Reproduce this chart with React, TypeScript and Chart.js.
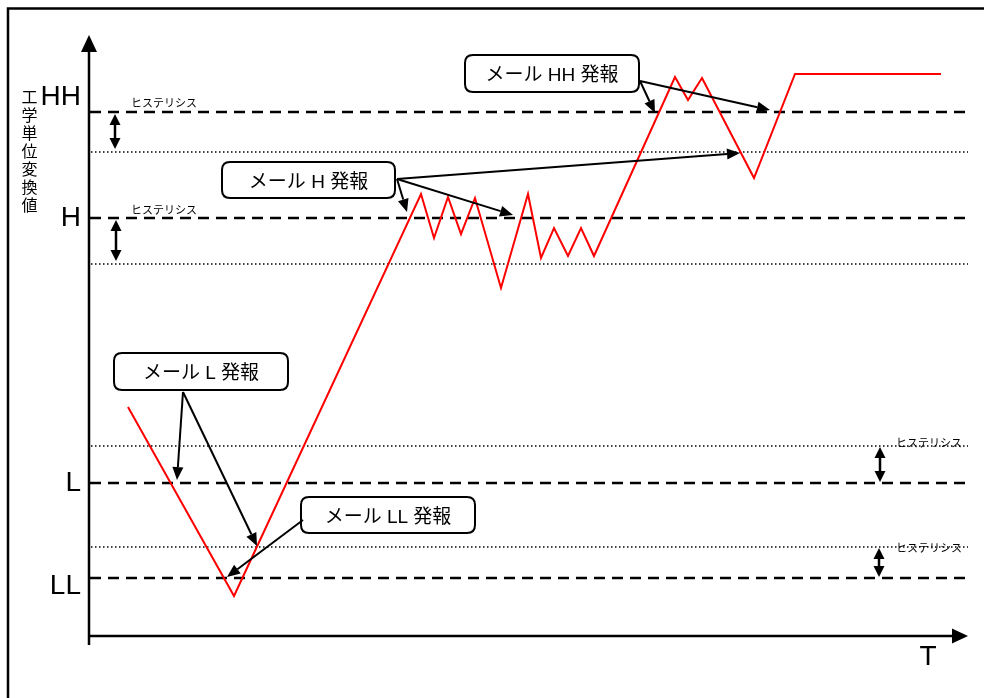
import { useEffect, useRef } from 'react';
import { Chart, registerables } from 'chart.js';
Chart.register(...registerables);

// Process value (engineering units) over time T
const timePoints = [39, 145, 332, 345, 359, 372, 386, 412, 439, 452, 465, 479, 492, 505, 586, 599, 613, 665, 706, 852];
const values = [229, 40, 442, 398, 439, 402, 438, 348, 442, 378, 408, 380, 408, 380, 559, 536, 558, 458, 562, 562];

// Alarm levels and their hysteresis release levels
const levelNames = ['HH', 'H', 'L', 'LL'];
const levelValues = [524, 418, 153, 58];
const hysteresisValues = [484, 372, 190, 89];
const levelLabelValues = [539, 418, 153, 50];
const hystMarkerTimes = [26, 27, 791, 790];
const hystLabelTimes = [42, 42, 807, 807];
const hystLabelValues = [529, 422, 189, 84];
const hystLabel = 'ヒステリシス';

// Mail alarm callouts
const alarmTexts = ['メール HH 発報', 'メール H 発報', 'メール L 発報', 'メール LL 発報'];
const alarmBoxT0 = [376, 133, 25, 212];
const alarmBoxT1 = [550, 306, 199, 386];
const alarmBoxVTop = [581, 474, 283, 139];
const alarmBoxVBottom = [544, 438, 246, 103];
const arrowFromT = [551, 308, 94, 214];
const arrowFromV = [555, 457, 244, 116];
const arrowTargetsHH = [[566, 523], [681, 526]];
const arrowTargetsH = [[318, 424], [424, 421], [651, 483]];
const arrowTargetsL = [[88, 156], [168, 90]];
const arrowTargetsLL = [[138, 59]];
const arrowTargets = [arrowTargetsHH, arrowTargetsH, arrowTargetsL, arrowTargetsLL];

const yAxisTitle = '工学単位変換値';
const xAxisTitle = 'T';

const X_MIN = -89, X_MAX = 895, Y_MIN = -62, Y_MAX = 636;
const LATIN = '"Liberation Sans", Arial, "Noto Sans CJK JP", sans-serif';

function arrowHead(ctx: CanvasRenderingContext2D, x0: number, y0: number, x1: number, y1: number, len: number, half: number) {
  const a = Math.atan2(y1 - y0, x1 - x0);
  const bx = x1 - len * Math.cos(a), by = y1 - len * Math.sin(a);
  ctx.beginPath();
  ctx.moveTo(x1, y1);
  ctx.lineTo(bx + half * Math.sin(a), by - half * Math.cos(a));
  ctx.lineTo(bx - half * Math.sin(a), by + half * Math.cos(a));
  ctx.closePath();
  ctx.fill();
  return [bx, by];
}

function arrow(ctx: CanvasRenderingContext2D, x0: number, y0: number, x1: number, y1: number, lw: number, len: number, half: number) {
  ctx.lineWidth = lw;
  const [bx, by] = arrowHead(ctx, x0, y0, x1, y1, len, half);
  ctx.beginPath();
  ctx.moveTo(x0, y0);
  ctx.lineTo(bx, by);
  ctx.stroke();
}

function roundRect(ctx: CanvasRenderingContext2D, x: number, y: number, w: number, h: number, r: number) {
  ctx.beginPath();
  ctx.moveTo(x + r, y);
  ctx.lineTo(x + w - r, y);
  ctx.quadraticCurveTo(x + w, y, x + w, y + r);
  ctx.lineTo(x + w, y + h - r);
  ctx.quadraticCurveTo(x + w, y + h, x + w - r, y + h);
  ctx.lineTo(x + r, y + h);
  ctx.quadraticCurveTo(x, y + h, x, y + h - r);
  ctx.lineTo(x, y + r);
  ctx.quadraticCurveTo(x, y, x + r, y);
  ctx.closePath();
}

const diagramPlugin = {
  id: 'diagram',
  beforeDatasetsDraw(chart: any) {
    const ctx: CanvasRenderingContext2D = chart.ctx;
    const xs = chart.scales.x, ys = chart.scales.y;
    const X = (t: number) => xs.getPixelForValue(t);
    const Y = (v: number) => ys.getPixelForValue(v);
    ctx.save();
    ctx.fillStyle = '#fff';
    ctx.fillRect(0, 0, chart.width, chart.height);
    ctx.strokeStyle = '#000';
    ctx.fillStyle = '#000';
    // frame
    ctx.lineWidth = 2.5;
    ctx.beginPath();
    ctx.moveTo(8, chart.height);
    ctx.lineTo(8, 8.5);
    ctx.lineTo(chart.width, 8.5);
    ctx.stroke();
    // level lines (dashed) and hysteresis lines (dotted)
    for (let i = 0; i < levelValues.length; i++) {
      ctx.lineWidth = 2.5;
      ctx.setLineDash([11, 7]);
      ctx.beginPath();
      ctx.moveTo(X(1), Y(levelValues[i]));
      ctx.lineTo(X(877), Y(levelValues[i]));
      ctx.stroke();
      ctx.lineWidth = 1.5;
      ctx.setLineDash([1.5, 2.5]);
      ctx.beginPath();
      ctx.moveTo(X(2), Y(hysteresisValues[i]));
      ctx.lineTo(X(879), Y(hysteresisValues[i]));
      ctx.stroke();
    }
    ctx.setLineDash([]);
    // hysteresis double arrows
    for (let i = 0; i < levelValues.length; i++) {
      const x = X(hystMarkerTimes[i]);
      const y0 = Y(levelValues[i]) + (i < 2 ? 2 : -1);
      const y1 = Y(hysteresisValues[i]) + (i < 2 ? -3 : 1);
      ctx.lineWidth = 2.5;
      const [, b0] = arrowHead(ctx, x, y1, x, y0, 11, 5.5);
      const [, b1] = arrowHead(ctx, x, y0, x, y1, 11, 5.5);
      ctx.beginPath();
      ctx.moveTo(x, b0);
      ctx.lineTo(x, b1);
      ctx.stroke();
    }
    // hysteresis labels
    ctx.font = '11px "Noto Sans CJK JP", sans-serif';
    ctx.textAlign = 'left';
    ctx.textBaseline = 'alphabetic';
    for (let i = 0; i < hystLabelTimes.length; i++) {
      ctx.fillText(hystLabel, X(hystLabelTimes[i]), Y(hystLabelValues[i]));
    }
    // axes
    ctx.lineWidth = 2.5;
    ctx.beginPath();
    ctx.moveTo(X(0), Y(-9));
    ctx.lineTo(X(0), Y(590));
    ctx.stroke();
    arrowHead(ctx, X(0), Y(0), X(0), Y(601), 17, 8);
    ctx.beginPath();
    ctx.moveTo(X(0), Y(0));
    ctx.lineTo(X(866), Y(0));
    ctx.stroke();
    arrowHead(ctx, X(0), Y(0), X(879), Y(0), 16, 7.5);
    // level names
    ctx.font = '28px ' + LATIN;
    ctx.textAlign = 'right';
    ctx.textBaseline = 'middle';
    for (let i = 0; i < levelNames.length; i++) {
      ctx.fillText(levelNames[i], X(-8), Y(levelLabelValues[i]));
    }
    ctx.textAlign = 'center';
    ctx.fillText(xAxisTitle, X(839), Y(-21));
    // vertical axis title
    ctx.font = '16px "Noto Sans CJK JP", sans-serif';
    const chars = Array.from(yAxisTitle);
    for (let i = 0; i < chars.length; i++) {
      ctx.fillText(chars[i], X(-59.5), Y(539) + i * 18);
    }
    ctx.restore();
  },
  afterDatasetsDraw(chart: any) {
    const ctx: CanvasRenderingContext2D = chart.ctx;
    const xs = chart.scales.x, ys = chart.scales.y;
    const X = (t: number) => xs.getPixelForValue(t);
    const Y = (v: number) => ys.getPixelForValue(v);
    ctx.save();
    ctx.strokeStyle = '#000';
    ctx.fillStyle = '#000';
    for (let i = 0; i < alarmTexts.length; i++) {
      const x0 = X(alarmBoxT0[i]), x1 = X(alarmBoxT1[i]);
      const y0 = Y(alarmBoxVTop[i]), y1 = Y(alarmBoxVBottom[i]);
      ctx.lineWidth = 2;
      roundRect(ctx, x0, y0, x1 - x0, y1 - y0, 8);
      ctx.fillStyle = '#fff';
      ctx.fill();
      ctx.stroke();
      ctx.fillStyle = '#000';
      ctx.font = '19px ' + LATIN;
      ctx.textAlign = 'center';
      ctx.textBaseline = 'middle';
      ctx.fillText(alarmTexts[i], (x0 + x1) / 2, (y0 + y1) / 2 + 2.5);
      const fx = X(arrowFromT[i]), fy = Y(arrowFromV[i]);
      for (const [t, v] of arrowTargets[i]) {
        arrow(ctx, fx, fy, X(t), Y(v), 2, 13, 5.5);
      }
    }
    ctx.restore();
  },
};

export default function App() {
  const ref = useRef<HTMLCanvasElement | null>(null);
  useEffect(() => {
    if (!ref.current) return;
    const chart = new Chart(ref.current, {
      type: 'line',
      data: {
        datasets: [{
          data: timePoints.map((t, i) => ({ x: t, y: values[i] })),
          borderColor: '#ff0000',
          borderWidth: 2,
          pointRadius: 0,
          tension: 0,
          fill: false,
        }],
      },
      options: {
        animation: false,
        responsive: false,
        maintainAspectRatio: false,
        devicePixelRatio: 1,
        layout: { padding: 0, autoPadding: false } as any,
        scales: {
          x: { type: 'linear', min: X_MIN, max: X_MAX, display: false },
          y: { type: 'linear', min: Y_MIN, max: Y_MAX, display: false },
        },
        plugins: { legend: { display: false }, tooltip: { enabled: false } },
        events: [],
      },
      plugins: [diagramPlugin],
    });
    return () => chart.destroy();
  }, []);
  return (
    <div style={{ position: 'fixed', left: 0, top: 0, width: 984, height: 698, background: '#fff' }}>
      <canvas ref={ref} width={984} height={698} style={{ display: 'block', width: 984, height: 698 }} />
    </div>
  );
}
